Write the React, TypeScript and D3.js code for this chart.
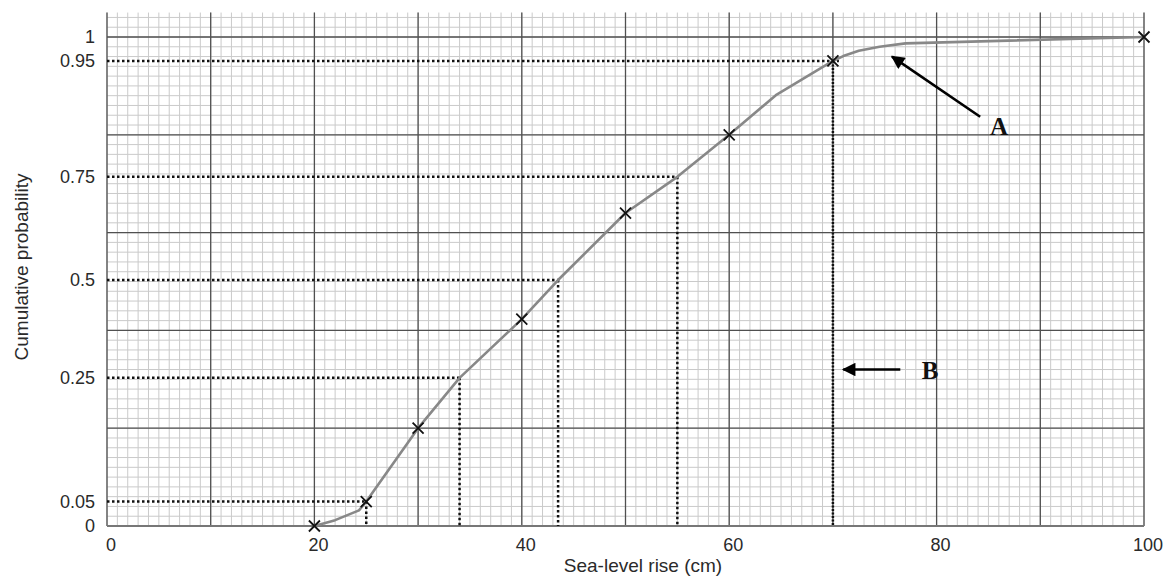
import React, { useEffect, useRef } from 'react';
import * as d3 from 'd3';

// Curve drawn through the plotted points (x = sea-level rise in cm)
const curveX = [20, 22, 24.3, 25, 30, 34, 40, 43.5, 50, 55, 60, 64.5, 70, 71, 72.5, 74.5, 77, 100];
const curveY = [0, 0.012, 0.032, 0.05, 0.2, 0.303, 0.423, 0.503, 0.64, 0.714, 0.8, 0.881, 0.951, 0.961, 0.972, 0.98, 0.987, 1];

// Points marked with a cross
const markX = [20, 25, 30, 40, 50, 60, 70, 100];
const markY = [0, 0.05, 0.2, 0.423, 0.64, 0.8, 0.951, 1];

// Dotted read-off lines
const guideX = [25, 34, 43.5, 55, 70];
const guideY = [0.05, 0.303, 0.503, 0.714, 0.951];

// Tick labels
const xTicks = [0, 20, 40, 60, 80, 100];
const yTickValues = [0, 0.05, 0.303, 0.503, 0.714, 0.951, 1];
const yTickLabels = ['0', '0.05', '0.25', '0.5', '0.75', '0.95', '1'];

const W = 1172;
const H = 579;

const App = () => {
  const svgRef = useRef<SVGSVGElement>(null);

  useEffect(() => {
    document.body.style.margin = '0';
    const svg = d3.select(svgRef.current);
    svg.selectAll('*').remove();

    const x = d3.scaleLinear().domain([0, 100]).range([107, 1144]);
    const y = d3.scaleLinear().domain([0, 1]).range([526, 37]);
    const yTop = 1.05;

    const font = '"Liberation Sans", Arial, sans-serif';

    // white background
    svg.append('rect').attr('width', W).attr('height', H).attr('fill', '#fff');

    // minor grid
    const minorX = d3.range(0, 101, 1);
    const minorY = d3.range(0, 1.0501, 0.02);
    const grid = svg.append('g');
    grid.selectAll('.mx')
      .data(minorX)
      .enter()
      .append('line')
      .attr('x1', d => x(d)).attr('x2', d => x(d))
      .attr('y1', y(0)).attr('y2', y(yTop))
      .attr('stroke', '#cacaca')
      .attr('stroke-width', 1);
    grid.selectAll('.my')
      .data(minorY)
      .enter()
      .append('line')
      .attr('x1', x(0)).attr('x2', x(100))
      .attr('y1', d => y(d)).attr('y2', d => y(d))
      .attr('stroke', '#cacaca')
      .attr('stroke-width', 1);

    // major grid
    grid.selectAll('.Mx')
      .data(d3.range(0, 101, 10))
      .enter()
      .append('line')
      .attr('x1', d => x(d)).attr('x2', d => x(d))
      .attr('y1', y(0)).attr('y2', y(yTop))
      .attr('stroke', '#505050')
      .attr('stroke-width', 1.3);
    grid.selectAll('.My')
      .data(d3.range(0, 1.001, 0.2))
      .enter()
      .append('line')
      .attr('x1', x(0)).attr('x2', x(100))
      .attr('y1', d => y(d)).attr('y2', d => y(d))
      .attr('stroke', '#505050')
      .attr('stroke-width', 1.3);

    // bottom axis line
    svg.append('line')
      .attr('x1', x(0)).attr('x2', x(100))
      .attr('y1', y(0)).attr('y2', y(0))
      .attr('stroke', '#777')
      .attr('stroke-width', 2);

    // dotted read-off lines
    const guides = guideX.map((gx, i) => ({ gx, gy: guideY[i] }));
    svg.selectAll('.gh')
      .data(guides)
      .enter()
      .append('line')
      .attr('x1', x(0)).attr('x2', d => x(d.gx) + (d.gx === 70 ? 6 : 0))
      .attr('y1', d => y(d.gy)).attr('y2', d => y(d.gy))
      .attr('stroke', '#111')
      .attr('stroke-width', 2.5)
      .attr('stroke-dasharray', '2.5,2.5');
    svg.selectAll('.gv')
      .data(guides)
      .enter()
      .append('line')
      .attr('x1', d => x(d.gx)).attr('x2', d => x(d.gx))
      .attr('y1', d => y(d.gy)).attr('y2', y(0))
      .attr('stroke', '#111')
      .attr('stroke-width', 2.5)
      .attr('stroke-dasharray', d => (d.gx === 70 ? '2,1.5' : '2.5,2.5'));

    // the curve
    const pts = curveX.map((cx, i) => [cx, curveY[i]] as [number, number]);
    svg.append('path')
      .datum(pts)
      .attr('d', d3.line().x(d => x(d[0])).y(d => y(d[1])))
      .attr('fill', 'none')
      .attr('stroke', '#888')
      .attr('stroke-width', 2.6)
      .attr('stroke-linejoin', 'round');

    // crosses
    const s = 5.5;
    const marks = svg.selectAll('.mk')
      .data(markX.map((mx, i) => [mx, markY[i]]))
      .enter()
      .append('g')
      .attr('transform', d => `translate(${x(d[0])},${y(d[1])})`);
    marks.append('path')
      .attr('d', `M${-s},${-s}L${s},${s}M${-s},${s}L${s},${-s}`)
      .attr('stroke', '#111')
      .attr('stroke-width', 1.8);

    // tick labels
    svg.selectAll('.xt')
      .data(xTicks)
      .enter()
      .append('text')
      .attr('x', d => x(d) + 4)
      .attr('y', 551)
      .attr('text-anchor', 'middle')
      .style('font-family', font)
      .style('font-size', '18px')
      .style('fill', '#2a2a2a')
      .text(d => d);
    svg.selectAll('.yt')
      .data(yTickValues)
      .enter()
      .append('text')
      .attr('x', 95)
      .attr('y', d => y(d))
      .attr('dy', '0.35em')
      .attr('text-anchor', 'end')
      .style('font-family', font)
      .style('font-size', '18px')
      .style('fill', '#2a2a2a')
      .text((d, i) => yTickLabels[i]);

    // axis titles
    svg.append('text')
      .attr('x', 643)
      .attr('y', 572)
      .attr('text-anchor', 'middle')
      .style('font-family', font)
      .style('font-size', '19px')
      .style('fill', '#2a2a2a')
      .text('Sea-level rise (cm)');
    svg.append('text')
      .attr('transform', 'translate(28,267) rotate(-90)')
      .attr('text-anchor', 'middle')
      .style('font-family', font)
      .style('font-size', '19px')
      .style('fill', '#2a2a2a')
      .text('Cumulative probability');

    // annotation arrows
    const defs = svg.append('defs');
    defs.append('marker')
      .attr('id', 'ah')
      .attr('viewBox', '0 0 10 10')
      .attr('refX', 9)
      .attr('refY', 5)
      .attr('markerWidth', 6)
      .attr('markerHeight', 5.2)
      .attr('markerUnits', 'strokeWidth')
      .attr('orient', 'auto')
      .append('path')
      .attr('d', 'M0,0L10,5L0,10Z')
      .attr('fill', '#000');

    svg.append('line')
      .attr('x1', x(84.2)).attr('y1', y(0.837))
      .attr('x2', x(75.7)).attr('y2', y(0.96))
      .attr('stroke', '#000')
      .attr('stroke-width', 2.6)
      .attr('marker-end', 'url(#ah)');
    svg.append('line')
      .attr('x1', x(76.5)).attr('y1', y(0.32))
      .attr('x2', x(71.0)).attr('y2', y(0.32))
      .attr('stroke', '#000')
      .attr('stroke-width', 2.6)
      .attr('marker-end', 'url(#ah)');

    svg.append('text')
      .attr('x', 999)
      .attr('y', 135)
      .attr('text-anchor', 'middle')
      .style('font-family', '"Liberation Serif", "Times New Roman", serif')
      .style('font-weight', 'bold')
      .style('font-size', '25px')
      .style('fill', '#111')
      .text('A');
    svg.append('text')
      .attr('x', 930)
      .attr('y', 379)
      .attr('text-anchor', 'middle')
      .style('font-family', '"Liberation Serif", "Times New Roman", serif')
      .style('font-weight', 'bold')
      .style('font-size', '25px')
      .style('fill', '#111')
      .text('B');
  }, []);

  return (
    <svg ref={svgRef} width={W} height={H} style={{ display: 'block' }}></svg>
  );
};

export default App;
